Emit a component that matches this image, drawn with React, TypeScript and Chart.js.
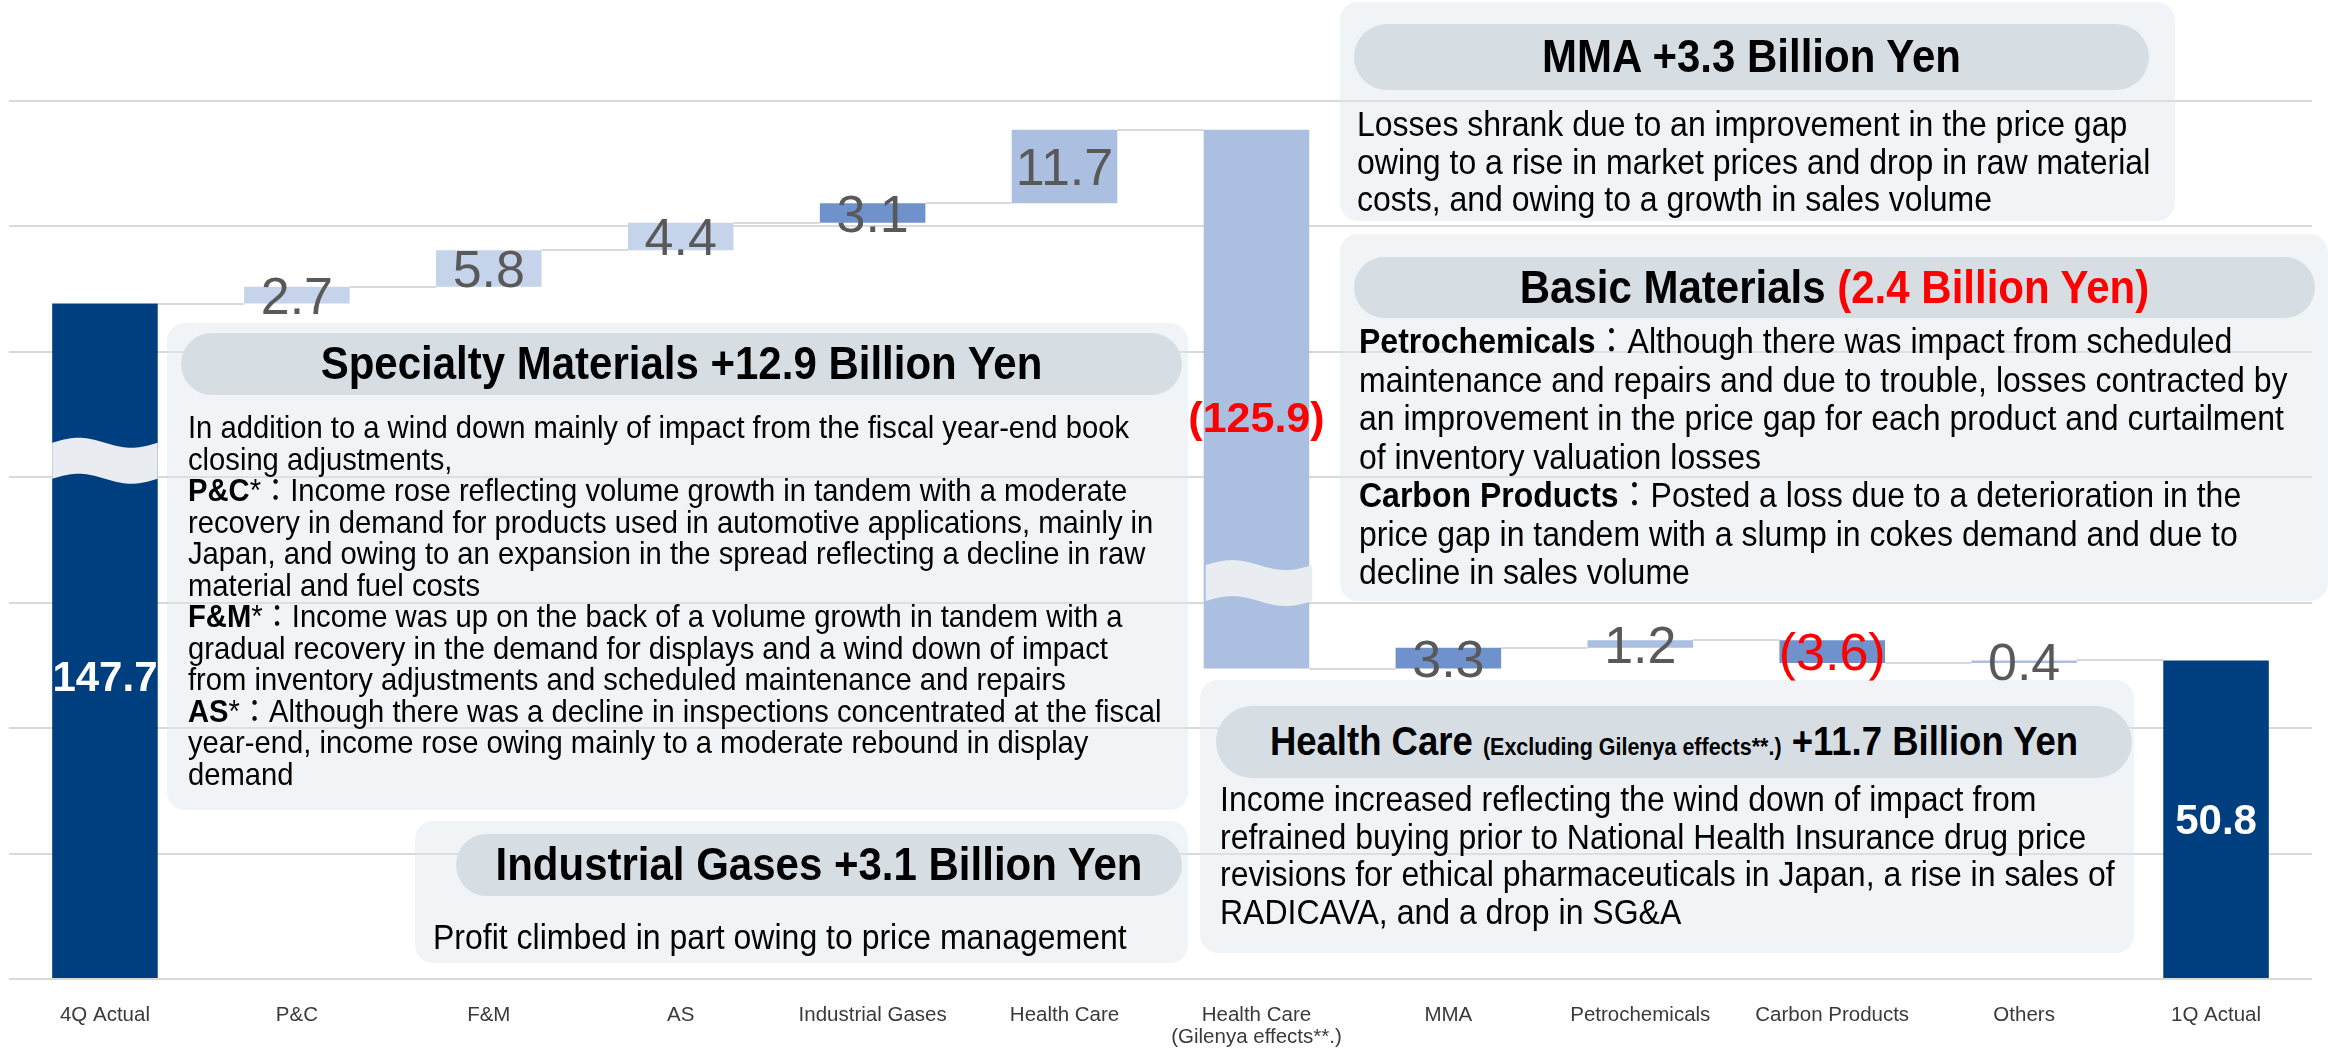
import React, { useEffect, useRef } from 'react';
import { Chart, registerables } from 'chart.js';

Chart.register(...registerables);

// ---------- data ----------
const categories: (string | string[])[] = [
  '4Q Actual',
  'P&C',
  'F&M',
  'AS',
  'Industrial Gases',
  'Health Care',
  ['Health Care', '(Gilenya effects**.)'],
  'MMA',
  'Petrochemicals',
  'Carbon Products',
  'Others',
  '1Q Actual',
];
const deltas = [147.7, 2.7, 5.8, 4.4, 3.1, 11.7, -125.9, 3.3, 1.2, -3.6, 0.4, 50.8];
const totalFlags = [true, false, false, false, false, false, false, false, false, false, false, true];
const barColors = [
  '#003F7F', '#C5D3EB', '#C5D3EB', '#C5D3EB', '#6F92CC', '#ABBFE1',
  '#ABBFE1', '#6F92CC', '#ABBFE1', '#6F92CC', '#ABBFE1', '#003F7F',
];
const yTicks = [0, 20, 40, 60, 80, 100, 120, 140];

// axis break: values above BREAK_ABOVE are drawn AXIS_BREAK units lower
const AXIS_BREAK = 40;
const BREAK_ABOVE = 100;
const toAxis = (v: number) => (v > BREAK_ABOVE ? v - AXIS_BREAK : v);

const FONT = "'Liberation Sans', Arial, 'Noto Sans CJK JP', sans-serif";
const STRETCH = 'scaleY(1.1)';

function buildSeries() {
  let run = 0;
  const ranges: [number, number][] = [];
  const levels: number[] = [];
  deltas.forEach((d, i) => {
    if (totalFlags[i]) {
      ranges.push([0, toAxis(d)]);
      run = d;
    } else {
      const s = run;
      run = Math.round((run + d) * 10) / 10;
      ranges.push([toAxis(s), toAxis(run)]);
    }
    levels.push(run);
  });
  return { ranges, levels };
}
const series = buildSeries();

const fmt = (v: number) => (v < 0 ? `(${Math.abs(v).toFixed(1)})` : v.toFixed(1));

function drawBreak(ctx: CanvasRenderingContext2D, xl: number, xr: number, yTop: number) {
  const h = 36;
  const A = 5;
  const n = 40;
  ctx.save();
  ctx.beginPath();
  for (let k = 0; k <= n; k++) {
    const t = k / n;
    const x = xl + (xr - xl) * t;
    const y = yTop - A * Math.sin(2 * Math.PI * t);
    if (k === 0) ctx.moveTo(x, y);
    else ctx.lineTo(x, y);
  }
  for (let k = n; k >= 0; k--) {
    const t = k / n;
    const x = xl + (xr - xl) * t;
    const y = yTop + h - A * Math.sin(2 * Math.PI * t);
    ctx.lineTo(x, y);
  }
  ctx.closePath();
  ctx.fillStyle = '#E9EDF1';
  ctx.fill();
  ctx.restore();
}

const waterfallPlugin = {
  id: 'waterfallDecor',
  beforeDatasetsDraw(chart: any) {
    const { ctx } = chart;
    const meta = chart.getDatasetMeta(0);
    const ys = chart.scales.y;
    const levels = series.levels;
    if (!meta || !meta.data || meta.data.length < 2) return;
    ctx.save();
    ctx.strokeStyle = '#D9D9D9';
    ctx.lineWidth = 2;
    for (let i = 0; i < meta.data.length - 1; i++) {
      const a = meta.data[i];
      const b = meta.data[i + 1];
      const y = Math.round(ys.getPixelForValue(toAxis(levels[i])));
      ctx.beginPath();
      ctx.moveTo(a.x + a.width / 2, y);
      ctx.lineTo(b.x - b.width / 2, y);
      ctx.stroke();
    }
    ctx.restore();
  },
  afterDatasetsDraw(chart: any) {
    const { ctx } = chart;
    const meta = chart.getDatasetMeta(0);
    const ys = chart.scales.y;
    if (!meta || !meta.data || meta.data.length < 12) return;
    // axis-break marks
    const b0 = meta.data[0];
    drawBreak(ctx, b0.x - b0.width / 2, b0.x + b0.width / 2, ys.getPixelForValue(85.5));
    const b6 = meta.data[6];
    drawBreak(ctx, b6.x - b6.width / 2 + 2, b6.x + b6.width / 2 + 3, ys.getPixelForValue(66));

    // value labels
    ctx.save();
    ctx.textAlign = 'center';
    ctx.textBaseline = 'alphabetic';
    meta.data.forEach((bar: any, i: number) => {
      const v = deltas[i];
      let size = 52;
      let weight = 'normal';
      let color = '#595959';
      let cy = (bar.y + bar.base) / 2;
      if (totalFlags[i]) {
        size = 42;
        weight = 'bold';
        color = '#FFFFFF';
        if (i === 0) cy = ys.getPixelForValue(48.3);
      } else if (v < -50) {
        size = 43;
        weight = 'bold';
        color = '#FF0000';
        cy += 17;
      } else if (v < 0) {
        color = '#FF0000';
      }
      ctx.font = `${weight} ${size}px ${FONT}`;
      ctx.fillStyle = color;
      ctx.fillText(fmt(v), bar.x, cy + size * 0.358);
    });
    ctx.restore();
  },
};

// ---------- text boxes ----------
type Rect = { l: number; t: number; w: number; h: number };

const Box: React.FC<{
  outer: Rect;
  pill: Rect;
  title: React.ReactNode;
  titleSize: number;
  body: { l: number; t: number; size: number; lh: number };
  lines: React.ReactNode[];
}> = ({ outer, pill, title, titleSize, body, lines }) => (
  <>
    <div
      style={{
        position: 'absolute',
        left: outer.l,
        top: outer.t,
        width: outer.w,
        height: outer.h,
        background: 'rgba(224,230,235,0.45)',
        borderRadius: 18,
      }}
    />
    <div
      style={{
        position: 'absolute',
        left: pill.l,
        top: pill.t,
        width: pill.w,
        height: pill.h,
        background: '#D6DEE4',
        borderRadius: pill.h / 2,
        display: 'flex',
        alignItems: 'center',
        justifyContent: 'center',
        fontFamily: FONT,
        fontWeight: 'bold',
        fontSize: titleSize,
        color: '#000',
        whiteSpace: 'nowrap',
      }}
    >
      <span style={{ display: 'inline-block', transform: STRETCH }}>{title}</span>
    </div>
    <div
      style={{
        position: 'absolute',
        left: body.l,
        top: body.t,
        fontFamily: FONT,
        fontSize: body.size,
        lineHeight: `${body.lh}px`,
        color: '#000',
        whiteSpace: 'nowrap',
      }}
    >
      {lines.map((ln, i) => (
        <div key={i} style={{ transform: STRETCH }}>
          {ln}
        </div>
      ))}
    </div>
  </>
);

const B: React.FC<{ children: React.ReactNode }> = ({ children }) => <b>{children}</b>;

export default function App() {
  const ref = useRef<HTMLCanvasElement | null>(null);

  useEffect(() => {
    if (!ref.current) return;
    const chart: any = new Chart(ref.current, {
      type: 'bar',
      data: {
        labels: categories as any,
        datasets: [
          {
            data: series.ranges as any,
            backgroundColor: barColors,
            borderWidth: 0,
            categoryPercentage: 1,
            barPercentage: 0.55,
          },
        ],
      },
      options: {
        responsive: false,
        maintainAspectRatio: false,
        animation: false,
        devicePixelRatio: 1,
        layout: { padding: { left: 9, right: 29, top: 101, bottom: 0 } },
        plugins: { legend: { display: false }, tooltip: { enabled: false } },
        scales: {
          x: {
            grid: { display: false },
            border: { display: false },
            ticks: {
              autoSkip: false,
              maxRotation: 0,
              minRotation: 0,
              padding: 18,
              color: '#3A3A3A',
              font: { family: FONT, size: 20.5, lineHeight: 1.05 },
            },
            afterFit: (s: any) => {
              s.height = 73;
            },
          },
          y: {
            min: yTicks[0],
            max: yTicks[yTicks.length - 1],
            afterBuildTicks: (s: any) => {
              s.ticks = yTicks.map((v) => ({ value: v }));
            },
            ticks: { display: false },
            grid: { color: '#D9D9D9', lineWidth: 2, drawTicks: false },
            border: { display: false },
            afterFit: (s: any) => {
              s.width = 0;
            },
          },
        },
      },
      plugins: [waterfallPlugin],
    });
    return () => chart.destroy();
  }, []);

  return (
    <div
      style={{
        position: 'absolute',
        left: 0,
        top: 0,
        width: 2341,
        height: 1052,
        background: '#FFFFFF',
        overflow: 'hidden',
      }}
    >
      <canvas ref={ref} width={2341} height={1052} style={{ position: 'absolute', left: 0, top: 0 }} />

      <Box
        outer={{ l: 167, t: 323, w: 1021, h: 487 }}
        pill={{ l: 181, t: 333, w: 1001, h: 62 }}
        title="Specialty Materials +12.9 Billion Yen"
        titleSize={42}
        body={{ l: 188, t: 412, size: 29.2, lh: 31.5 }}
        lines={[
          'In addition to a wind down mainly of impact from the fiscal year-end book',
          'closing adjustments,',
          <><B>P&amp;C</B>*：Income rose reflecting volume growth in tandem with a moderate</>,
          'recovery in demand for products used in automotive applications, mainly in',
          'Japan, and owing to an expansion in the spread reflecting a decline in raw',
          'material and fuel costs',
          <><B>F&amp;M</B>*：Income was up on the back of a volume growth in tandem with a</>,
          'gradual recovery in the demand for displays and a wind down of impact',
          'from inventory adjustments and scheduled maintenance and repairs',
          <><B>AS</B>*：Although there was a decline in inspections concentrated at the fiscal</>,
          'year-end, income rose owing mainly to a moderate rebound in display',
          'demand',
        ]}
      />

      <Box
        outer={{ l: 415, t: 821, w: 773, h: 142 }}
        pill={{ l: 456, t: 834, w: 726, h: 62 }}
        title="Industrial Gases +3.1 Billion Yen"
        titleSize={42}
        body={{ l: 433, t: 918, size: 32, lh: 38 }}
        lines={['Profit climbed in part owing to price management']}
      />

      <Box
        outer={{ l: 1340, t: 2, w: 835, h: 219 }}
        pill={{ l: 1354, t: 24, w: 795, h: 66 }}
        title="MMA +3.3 Billion Yen"
        titleSize={42}
        body={{ l: 1357, t: 106, size: 32, lh: 37.5 }}
        lines={[
          'Losses shrank due to an improvement in the price gap',
          'owing to a rise in market prices and drop in raw material',
          'costs, and owing to a growth in sales volume',
        ]}
      />

      <Box
        outer={{ l: 1340, t: 234, w: 988, h: 367 }}
        pill={{ l: 1354, t: 257, w: 961, h: 61 }}
        title={
          <>
            Basic Materials <span style={{ color: '#FF0000' }}>(2.4 Billion Yen)</span>
          </>
        }
        titleSize={42}
        body={{ l: 1359, t: 322, size: 32, lh: 38.5 }}
        lines={[
          <><B>Petrochemicals</B>：Although there was impact from scheduled</>,
          'maintenance and repairs and due to trouble, losses contracted by',
          'an improvement in the price gap for each product and curtailment',
          'of inventory valuation losses',
          <><B>Carbon Products</B>：Posted a loss due to a deterioration in the</>,
          'price gap in tandem with a slump in cokes demand and due to',
          'decline in sales volume',
        ]}
      />

      <Box
        outer={{ l: 1200, t: 680, w: 934, h: 273 }}
        pill={{ l: 1216, t: 706, w: 916, h: 72 }}
        title={
          <>
            Health Care <span style={{ fontSize: 21.5 }}>(Excluding Gilenya effects**.)</span> +11.7 Billion Yen
          </>
        }
        titleSize={36.5}
        body={{ l: 1220, t: 781, size: 32, lh: 37.7 }}
        lines={[
          'Income increased reflecting the wind down of impact from',
          'refrained buying prior to National Health Insurance drug price',
          'revisions for ethical pharmaceuticals in Japan, a rise in sales of',
          'RADICAVA, and a drop in SG&A',
        ]}
      />
    </div>
  );
}
